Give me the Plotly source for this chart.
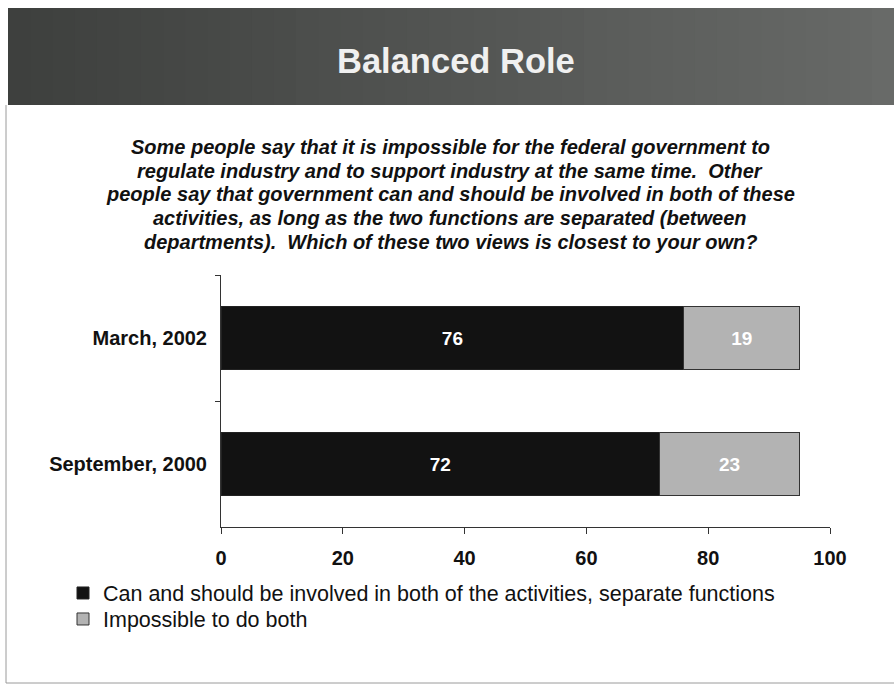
import plotly.graph_objects as go

# Survey results (percent)
periods = ["September, 2000", "March, 2002"]
can_do_both = [72, 76]
impossible = [23, 19]
series_names = ["Can and should be involved in both of the activities, separate functions",
                "Impossible to do both"]
x_ticks = [0, 20, 40, 60, 80, 100]

title_text = "Balanced Role"
question_lines = [
    "Some people say that it is impossible for the federal government to",
    "regulate industry and to support industry at the same time.  Other",
    "people say that government can and should be involved in both of these",
    "activities, as long as the two functions are separated (between",
    "departments).  Which of these two views is closest to your own?",
]

W, H = 894, 685
FONT = "Liberation Sans, Arial, sans-serif"

fig = go.Figure()
fig.add_trace(go.Bar(
    y=periods, x=can_do_both, orientation="h", name=series_names[0],
    marker=dict(color="#121212", line=dict(color="#222222", width=1)),
    text=can_do_both, textposition="inside", insidetextanchor="middle",
    textfont=dict(color="white", size=19, family=FONT, weight="bold"),
    hoverinfo="skip", legend="legend",
))
fig.add_trace(go.Bar(
    y=periods, x=impossible, orientation="h", name=series_names[1],
    marker=dict(color="#b3b3b3", line=dict(color="#333333", width=1)),
    text=impossible, textposition="inside", insidetextanchor="middle",
    textfont=dict(color="white", size=19, family=FONT, weight="bold"),
    hoverinfo="skip", legend="legend2",
))

# Header band: dark gray gradient, darker on the left
shapes = []
n_strips = 40
x0, x1 = 8, W
for i in range(n_strips):
    t = i / (n_strips - 1)
    g = int(62 + 42 * t)
    shapes.append(dict(
        type="rect", xref="paper", yref="paper", layer="below",
        x0=(x0 + (x1 - x0) * i / n_strips) / W, x1=min(1, (x0 + (x1 - x0) * (i + 1) / n_strips + 1) / W),
        y0=1 - 105 / H, y1=1 - 8 / H,
        fillcolor=f"rgb({g},{g + 2},{g})", line=dict(width=0),
    ))
# Page frame lines
shapes.append(dict(type="line", xref="paper", yref="paper", x0=6 / W, x1=6 / W,
                   y0=1 - 683 / H, y1=1 - 105 / H, line=dict(color="#9a9a9a", width=1)))
shapes.append(dict(type="line", xref="paper", yref="paper", x0=6 / W, x1=1,
                   y0=1 - 683 / H, y1=1 - 683 / H, line=dict(color="#9a9a9a", width=1)))

annotations = [
    dict(text=f"<b>{title_text}</b>", x=456 / W, y=1 - 61 / H, xref="paper", yref="paper",
         xanchor="center", yanchor="middle", showarrow=False,
         font=dict(size=34.5, color="#f0f0f0", family=FONT)),
]
for k, line in enumerate(question_lines):
    annotations.append(dict(
        text=f"<b><i>{line}</i></b>", x=450 / W, y=1 - (147 + 23.7 * k) / H,
        xref="paper", yref="paper", xanchor="center", yanchor="middle", showarrow=False,
        font=dict(size=20, color="#111111", family=FONT)))

legend_common = dict(
    xanchor="left", yanchor="middle", orientation="v",
    font=dict(size=21.5, family=FONT, color="#111111"),
    bgcolor="rgba(0,0,0,0)", itemwidth=30,
)

fig.update_layout(
    width=W, height=H, autosize=False,
    margin=dict(l=0, r=0, t=0, b=0, autoexpand=False),
    paper_bgcolor="white", plot_bgcolor="white",
    barmode="stack", bargap=0.5,
    shapes=shapes, annotations=annotations,
    font=dict(family=FONT, color="#111111"),
    xaxis=dict(
        domain=[221 / W, 830 / W], range=[0, 100], tickvals=x_ticks,
        showgrid=False, zeroline=False, showline=True, linecolor="#333333", linewidth=1,
        ticks="outside", ticklen=6, tickcolor="#333333", ticklabelstandoff=7,
        tickfont=dict(size=20, family=FONT, weight="bold", color="#111111"),
        automargin=False, fixedrange=True,
    ),
    yaxis=dict(
        domain=[1 - 527 / H, 1 - 275 / H], type="category",
        categoryorder="array", categoryarray=periods,
        showgrid=False, zeroline=False, showline=True, linecolor="#333333", linewidth=1,
        ticks="outside", ticklen=5, tickcolor="#333333", tickson="boundaries",
        tickfont=dict(size=20, family=FONT, weight="bold", color="#111111"),
        ticklabelstandoff=9, automargin=False, fixedrange=True,
    ),
    showlegend=True,
    legend=dict(x=63 / W, y=1 - 593 / H, **legend_common),
    legend2=dict(x=63 / W, y=1 - 619 / H, **legend_common),
)

fig.write_html("out.html")
